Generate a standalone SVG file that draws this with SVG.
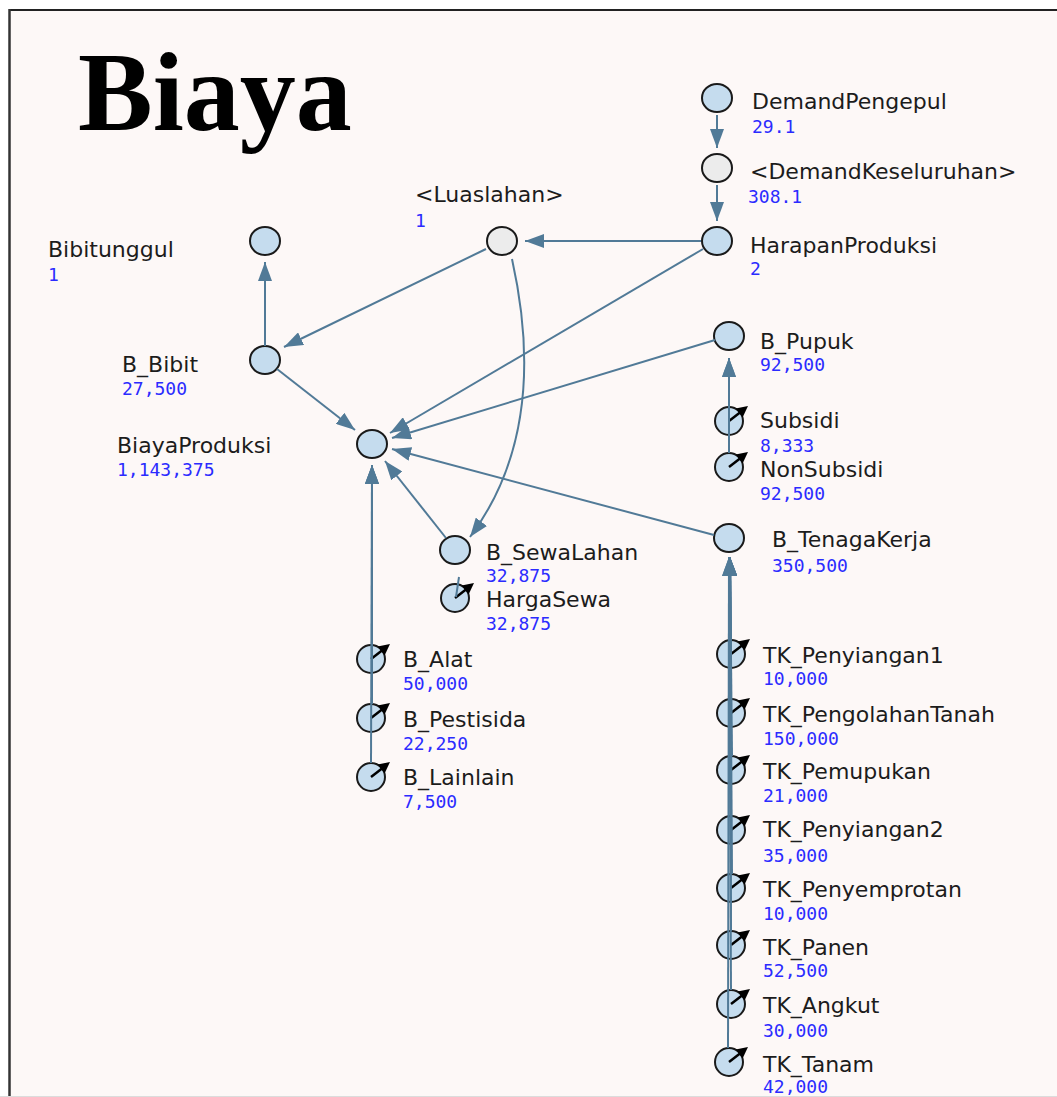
<svg xmlns="http://www.w3.org/2000/svg" width="1057" height="1097" viewBox="0 0 1057 1097">
  <defs>
    <style>
      .lbl { font-family: "DejaVu Sans", Verdana, sans-serif; font-size: 22px; fill: #1c1c1c; }
      .val { font-family: "DejaVu Sans Mono", "Liberation Mono", monospace; font-size: 18px; fill: #2b2bff; }
      .aux { fill: #c5dcee; stroke: #1a1a1a; stroke-width: 2; }
      .shadow { fill: #ececec; stroke: #1a1a1a; stroke-width: 2; }
      .link { fill: none; stroke: #517a97; stroke-width: 2; marker-end: url(#ah); }
      .plain { fill: none; stroke: #517a97; stroke-width: 2; }
      .title { font-family: "Liberation Serif", "Times New Roman", serif; font-size: 112px; font-weight: bold; fill: #000; }
    </style>
    <marker id="ah" markerUnits="userSpaceOnUse" markerWidth="20" markerHeight="14" viewBox="0 0 20 14" refX="19" refY="7" orient="auto">
      <path d="M0,0 L19,7 L0,14 z" fill="#517a97"/>
    </marker>
    <!-- input (constant) flag: black arrow from the centre to the upper right -->
    <g id="flag">
      <line x1="0" y1="0" x2="11" y2="-8.5" stroke="#000" stroke-width="2.5"/>
      <path d="M19,-15 L13.6,-3.6 L6.6,-12.4 z" fill="#000"/>
    </g>
  </defs>

  <!-- sheet -->
  <rect x="0" y="0" width="1057" height="1097" fill="#ffffff"/>
  <rect x="10" y="10" width="1060" height="1086" fill="#fdf8f7"/>

  <text class="title" x="78" y="130">Biaya</text>

  <!-- nodes -->
  <g id="nodes">
    <g id="Bibitunggul">
      <ellipse class="aux" cx="265" cy="241" rx="15" ry="14"/>
      <text class="lbl" x="48" y="257">Bibitunggul</text>
      <text class="val" x="48" y="281">1</text>
    </g>
    <g id="Luaslahan">
      <ellipse class="shadow" cx="502" cy="241" rx="15" ry="14"/>
      <text class="lbl" x="415" y="202">&lt;Luaslahan&gt;</text>
      <text class="val" x="415" y="227">1</text>
    </g>
    <g id="DemandPengepul">
      <ellipse class="aux" cx="717" cy="98" rx="15" ry="14"/>
      <text class="lbl" x="752" y="109">DemandPengepul</text>
      <text class="val" x="752" y="133">29.1</text>
    </g>
    <g id="DemandKeseluruhan">
      <ellipse class="shadow" cx="717" cy="168" rx="15" ry="14"/>
      <text class="lbl" x="750" y="179">&lt;DemandKeseluruhan&gt;</text>
      <text class="val" x="748" y="203">308.1</text>
    </g>
    <g id="HarapanProduksi">
      <ellipse class="aux" cx="717" cy="241" rx="15" ry="14"/>
      <text class="lbl" x="750" y="253">HarapanProduksi</text>
      <text class="val" x="750" y="275">2</text>
    </g>
    <g id="B_Bibit">
      <ellipse class="aux" cx="265" cy="360" rx="15" ry="14"/>
      <text class="lbl" x="122" y="372">B_Bibit</text>
      <text class="val" x="122" y="395">27,500</text>
    </g>
    <g id="BiayaProduksi">
      <ellipse class="aux" cx="372" cy="444" rx="15" ry="14"/>
      <text class="lbl" x="117" y="453">BiayaProduksi</text>
      <text class="val" x="117" y="476">1,143,375</text>
    </g>
    <g id="B_Pupuk">
      <ellipse class="aux" cx="729" cy="336" rx="15" ry="14"/>
      <text class="lbl" x="760" y="349">B_Pupuk</text>
      <text class="val" x="760" y="371">92,500</text>
    </g>
    <g id="Subsidi">
      <ellipse class="aux" cx="729" cy="421" rx="14" ry="14"/>
      <use href="#flag" x="729" y="421"/>
      <text class="lbl" x="760" y="428">Subsidi</text>
      <text class="val" x="760" y="452">8,333</text>
    </g>
    <g id="NonSubsidi">
      <ellipse class="aux" cx="729" cy="467" rx="14" ry="14"/>
      <use href="#flag" x="729" y="467"/>
      <text class="lbl" x="760" y="477">NonSubsidi</text>
      <text class="val" x="760" y="500">92,500</text>
    </g>
    <g id="B_TenagaKerja">
      <ellipse class="aux" cx="729" cy="538" rx="15" ry="14"/>
      <text class="lbl" x="772" y="547">B_TenagaKerja</text>
      <text class="val" x="772" y="572">350,500</text>
    </g>
    <g id="B_SewaLahan">
      <ellipse class="aux" cx="455" cy="550" rx="15" ry="14"/>
      <text class="lbl" x="486" y="560">B_SewaLahan</text>
      <text class="val" x="486" y="582">32,875</text>
    </g>
    <g id="HargaSewa">
      <ellipse class="aux" cx="455" cy="598" rx="14" ry="14"/>
      <use href="#flag" x="455" y="598"/>
      <text class="lbl" x="486" y="607">HargaSewa</text>
      <text class="val" x="486" y="630">32,875</text>
    </g>
    <g id="B_Alat">
      <ellipse class="aux" cx="371" cy="659" rx="14" ry="14"/>
      <use href="#flag" x="371" y="659"/>
      <text class="lbl" x="403" y="667">B_Alat</text>
      <text class="val" x="403" y="690">50,000</text>
    </g>
    <g id="B_Pestisida">
      <ellipse class="aux" cx="371" cy="718" rx="14" ry="14"/>
      <use href="#flag" x="371" y="718"/>
      <text class="lbl" x="403" y="727">B_Pestisida</text>
      <text class="val" x="403" y="750">22,250</text>
    </g>
    <g id="B_Lainlain">
      <ellipse class="aux" cx="371" cy="777" rx="14" ry="14"/>
      <use href="#flag" x="371" y="777"/>
      <text class="lbl" x="403" y="785">B_Lainlain</text>
      <text class="val" x="403" y="808">7,500</text>
    </g>
    <g id="TK_Penyiangan1">
      <ellipse class="aux" cx="731" cy="654" rx="14" ry="14"/>
      <use href="#flag" x="731" y="654"/>
      <text class="lbl" x="763" y="663">TK_Penyiangan1</text>
      <text class="val" x="763" y="685">10,000</text>
    </g>
    <g id="TK_PengolahanTanah">
      <ellipse class="aux" cx="731" cy="713" rx="14" ry="14"/>
      <use href="#flag" x="731" y="713"/>
      <text class="lbl" x="763" y="722">TK_PengolahanTanah</text>
      <text class="val" x="763" y="745">150,000</text>
    </g>
    <g id="TK_Pemupukan">
      <ellipse class="aux" cx="731" cy="770" rx="14" ry="14"/>
      <use href="#flag" x="731" y="770"/>
      <text class="lbl" x="763" y="779">TK_Pemupukan</text>
      <text class="val" x="763" y="802">21,000</text>
    </g>
    <g id="TK_Penyiangan2">
      <ellipse class="aux" cx="731" cy="830" rx="14" ry="14"/>
      <use href="#flag" x="731" y="830"/>
      <text class="lbl" x="763" y="837">TK_Penyiangan2</text>
      <text class="val" x="763" y="862">35,000</text>
    </g>
    <g id="TK_Penyemprotan">
      <ellipse class="aux" cx="731" cy="888" rx="14" ry="14"/>
      <use href="#flag" x="731" y="888"/>
      <text class="lbl" x="763" y="897">TK_Penyemprotan</text>
      <text class="val" x="763" y="920">10,000</text>
    </g>
    <g id="TK_Panen">
      <ellipse class="aux" cx="731" cy="945" rx="14" ry="14"/>
      <use href="#flag" x="731" y="945"/>
      <text class="lbl" x="763" y="955">TK_Panen</text>
      <text class="val" x="763" y="977">52,500</text>
    </g>
    <g id="TK_Angkut">
      <ellipse class="aux" cx="731" cy="1004" rx="14" ry="14"/>
      <use href="#flag" x="731" y="1004"/>
      <text class="lbl" x="763" y="1013">TK_Angkut</text>
      <text class="val" x="763" y="1037">30,000</text>
    </g>
    <g id="TK_Tanam">
      <ellipse class="aux" cx="729" cy="1062" rx="14" ry="14"/>
      <use href="#flag" x="729" y="1062"/>
      <text class="lbl" x="763" y="1072">TK_Tanam</text>
      <text class="val" x="763" y="1093">42,000</text>
    </g>
  </g>

  <!-- connectors -->
  <g id="connectors">
    <line class="link" x1="717" y1="115" x2="717" y2="148"/>
    <line class="link" x1="717" y1="185" x2="717" y2="221"/>
    <line class="link" x1="701" y1="241" x2="525" y2="241"/>
    <line class="link" x1="486" y1="249" x2="284" y2="347"/>
    <path class="link" d="M512,259 Q550,430 470,537"/>
    <line class="link" x1="703" y1="249" x2="390" y2="433"/>
    <line class="link" x1="265" y1="346" x2="265" y2="262"/>
    <line class="link" x1="277" y1="369" x2="355" y2="430"/>
    <line class="link" x1="715" y1="340" x2="392" y2="438"/>
    <line class="link" x1="714" y1="535" x2="392" y2="449"/>
    <line class="link" x1="446" y1="538" x2="385" y2="461"/>
    <line class="link" x1="372" y1="645" x2="372" y2="465"/>
    <line class="link" x1="372" y1="704" x2="372" y2="465"/>
    <line class="link" x1="371" y1="763" x2="372" y2="465"/>
    <line class="link" x1="729" y1="407" x2="729" y2="358"/>
    <line class="link" x1="729" y1="453" x2="729" y2="358"/>
    <line class="plain" x1="459" y1="577" x2="456" y2="597"/>
    <line class="link" x1="731" y1="640" x2="730" y2="557"/>
    <line class="link" x1="731" y1="699" x2="730" y2="557"/>
    <line class="link" x1="732" y1="756" x2="730" y2="557"/>
    <line class="link" x1="731" y1="816" x2="730" y2="557"/>
    <line class="link" x1="732" y1="874" x2="730" y2="557"/>
    <line class="link" x1="731" y1="931" x2="730" y2="557"/>
    <line class="link" x1="731" y1="990" x2="729" y2="557"/>
    <line class="link" x1="728" y1="1048" x2="729" y2="557"/>
  </g>

  <!-- frame -->
  <line x1="9" y1="10" x2="1057" y2="10" stroke="#222" stroke-width="2"/>
  <line x1="9.5" y1="9" x2="9.5" y2="1096" stroke="#333" stroke-width="2.5"/>
  <rect x="0" y="1096" width="1057" height="1" fill="#dcdcdc"/>
</svg>
